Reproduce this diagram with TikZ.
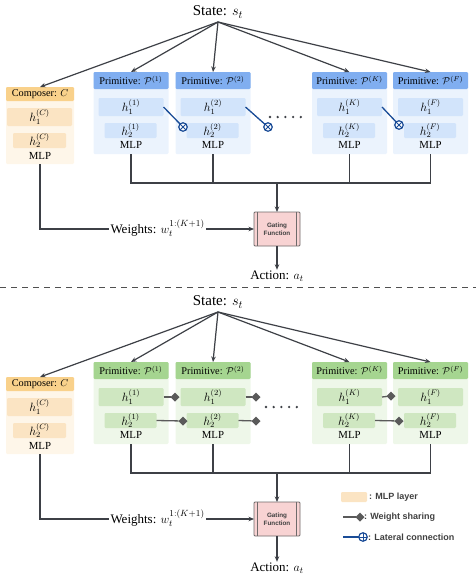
\documentclass[tikz,border=0pt]{standalone}
\usepackage{fontspec}
\setmainfont{Liberation Serif}
\setsansfont{Liberation Sans}
\usetikzlibrary{arrows.meta,shapes.geometric}
\definecolor{oH}{HTML}{F9D18B}
\definecolor{oB}{HTML}{FEF6E9}
\definecolor{oI}{HTML}{FBE4C3}
\definecolor{bH}{HTML}{80AEF0}
\definecolor{bB}{HTML}{EBF3FD}
\definecolor{bI}{HTML}{D2E4FB}
\definecolor{gH}{HTML}{A5D590}
\definecolor{gB}{HTML}{EEF7E9}
\definecolor{gI}{HTML}{CFE7C1}
\definecolor{lineC}{HTML}{3D4046}
\definecolor{latC}{HTML}{1A4C97}
\definecolor{diaC}{HTML}{5A5A5A}
\definecolor{pinkF}{HTML}{F8D3D3}
\definecolor{gateD}{HTML}{6E6A6A}
\definecolor{txtG}{HTML}{404040}
\definecolor{dashC}{HTML}{505050}
\newcommand\bx[7]{\node[#6, minimum width={(#4)-(#2)}, minimum height={(#5)-(#3)}] (#1) at ({((#2)+(#4))/2},{((#3)+(#5))/2}) {#7};}
\tikzset{
 every node/.style={inner sep=0pt, outer sep=0pt},
 bxs/.style={rectangle, rounded corners=1.2pt},
 hd/.style={font=\fontsize{10.3}{12}\selectfont},
 hl/.style={font=\fontsize{11.5}{12}\selectfont},
 mlp/.style={font=\fontsize{10.8}{12}\selectfont},
 wlab/.style={font=\fontsize{13}{15}\selectfont},
 ln/.style={draw=lineC, line width=1.2pt},
 arr/.style={ln, -{Stealth[length=5.5pt,width=4.5pt]}},
 lat/.style={draw=latC, line width=1.3pt},
 latx/.style={circle, draw=latC, line width=1.2pt, fill=white, minimum size=8.5pt,
   path picture={\draw[latC, line width=1pt] (path picture bounding box.north west) -- (path picture bounding box.south east) (path picture bounding box.north east) -- (path picture bounding box.south west);}},
 latp/.style={circle, draw=latC, line width=1.2pt, fill=white, minimum size=8.5pt,
   path picture={\draw[latC, line width=1pt] (path picture bounding box.north) -- (path picture bounding box.south) (path picture bounding box.east) -- (path picture bounding box.west);}},
 ws/.style={draw=diaC, line width=1.3pt},
 dia/.style={diamond, fill=diaC, minimum width=9pt, minimum height=9pt},
 gate/.style={rectangle, draw=gateD, fill=pinkF, line width=0.8pt, rounded corners=1pt,
   minimum width=46pt, minimum height=34pt, align=center, text=txtG,
   font=\sffamily\bfseries\fontsize{6.3}{8}\selectfont},
 lgt/.style={font=\sffamily\bfseries\fontsize{9}{10}\selectfont, text=txtG},
}
\newcommand\panel[6]{%
\begin{scope}[shift={(0,#2)}]
\node[font=\fontsize{15}{18}\selectfont] (state#1) at (218,12) {State: $s_t$};
\coordinate (src#1) at (218,22);
\bx{compB#1}{6}{87}{74}{164}{bxs,fill=oB}{}
\bx{comp#1}{6}{87}{74}{101}{bxs,fill=oH,hd}{Composer: $C$}
\bx{chA#1}{7}{108}{72}{126}{bxs,fill=oI,hl}{$h_1^{(C)}$}
\bx{chB#1}{13}{133}{66}{148}{bxs,fill=oI,hl}{$h_2^{(C)}$}
\node[mlp] (cmlp#1) at (40,156) {MLP};
\draw[arr] (src#1) -- (comp#1.north);
\foreach \x/\n/\lab in {93.5/1/(1),175.5/2/(2),312/K/(K),393/F/(F)}{
 \bx{pB\n#1}{\x}{72}{\x+75}{154}{bxs,fill=#4}{}
 \bx{p\n#1}{\x}{72}{\x+75}{89}{bxs,fill=#3,hd}{Primitive: $\mathcal{P}^{\lab}$}
 \bx{hA\n#1}{\x+5}{98}{\x+70}{116}{bxs,fill=#5,hl}{$h_1^{\lab}$}
 \bx{hB\n#1}{\x+11}{123}{\x+63}{138}{bxs,fill=#5,hl}{$h_2^{\lab}$}
 \node[mlp] (pm\n#1) at (\x+37.5,145) {MLP};
 \draw[arr] (src#1) -- (p\n#1.north);
}
\coordinate (bus#1) at (277,183);
\draw[ln] (pB1#1.south) |- (bus#1) -| (pBF#1.south);
\draw[ln] (pB2#1.south) -- (pB2#1.south |- bus#1);
\draw[ln] (pBK#1.south) -- (pBK#1.south |- bus#1);
\node[gate] (gate#1) at (277,229) {Gating\\Function};
\draw[gateD, line width=0.7pt] ([xshift=3.5pt]gate#1.north west) -- ([xshift=3.5pt]gate#1.south west);
\draw[gateD, line width=0.7pt] ([xshift=-3.5pt]gate#1.north east) -- ([xshift=-3.5pt]gate#1.south east);
\draw[arr] (bus#1) -- (gate#1.north);
\node[wlab, anchor=base west, inner xsep=1.5pt] (w#1) at (109,233) {Weights: $w_t^{1:(K+1)}$};
\draw[ln] (compB#1.south) |- ([yshift=4pt]w#1.base west);
\draw[arr] ([yshift=4pt]w#1.base east) -- (gate#1.west);
\node[wlab, inner ysep=1pt] (act#1) at (277,#6) {Action: $a_t$};
\draw[arr] (gate#1.south) -- (act#1.north);
\end{scope}}
\begin{document}
\begin{tikzpicture}[x=1pt,y=-1pt]
\useasboundingbox (0,0) rectangle (476,576);
\panel{a}{0}{bH}{bB}{bI}{276}
\panel{b}{290}{gH}{gB}{gI}{278}
% separator
\draw[dash pattern=on 6pt off 5pt, draw=dashC, line width=1pt] (0,287) -- (476,287);
% lateral connections (top)
\node[latx] (l1) at (183,127) {}; \draw[lat] (hA1a.east) -- (l1);
\node[latx] (l2) at (268,127) {}; \draw[lat] (hA2a.east) -- (l2);
\node[latx] (l3) at (399,125) {}; \draw[lat] (hAKa.east) -- (l3);
\foreach \i in {0,...,4} \fill[lineC] (270+7.7*\i,117) circle (1.3pt);
% weight sharing (bottom)
\node[dia] (d1) at (175,397) {}; \draw[ws] (hA1b.east) -- (d1);
\node[dia] (d2) at (183,421) {}; \draw[ws] (hB1b.east) -- (d2);
\node[dia] (d3) at (256,397) {}; \draw[ws] (hA2b.east) -- (d3);
\node[dia] (d4) at (256,421) {}; \draw[ws] (hB2b.east) -- (d4);
\node[dia] (d5) at (391,396) {}; \draw[ws] (hAKb.east) -- (d5);
\node[dia] (d6) at (399,421) {}; \draw[ws] (hBKb.east) -- (d6);
\foreach \i in {0,...,4} \fill[lineC] (266+7.7*\i,407) circle (1.3pt);
% legend
\node[bxs, fill=oI, minimum width=26pt, minimum height=10pt] (lg1) at (354,497) {};
\node[lgt, anchor=west] (lt1) at (369,497) {: MLP layer};
\coordinate (lg2s) at (343,517);
\node[dia] (lg2) at (360,517) {}; \draw[ws] (lg2s) -- (lg2);
\node[lgt, anchor=west] (lt2) at (364,517) {: Weight sharing};
\coordinate (lg3s) at (343,537);
\node[latp] (lg3) at (363,537) {}; \draw[lat] (lg3s) -- (lg3);
\node[lgt, anchor=west] (lt3) at (368,537) {: Lateral connection};
\end{tikzpicture}
\end{document}
